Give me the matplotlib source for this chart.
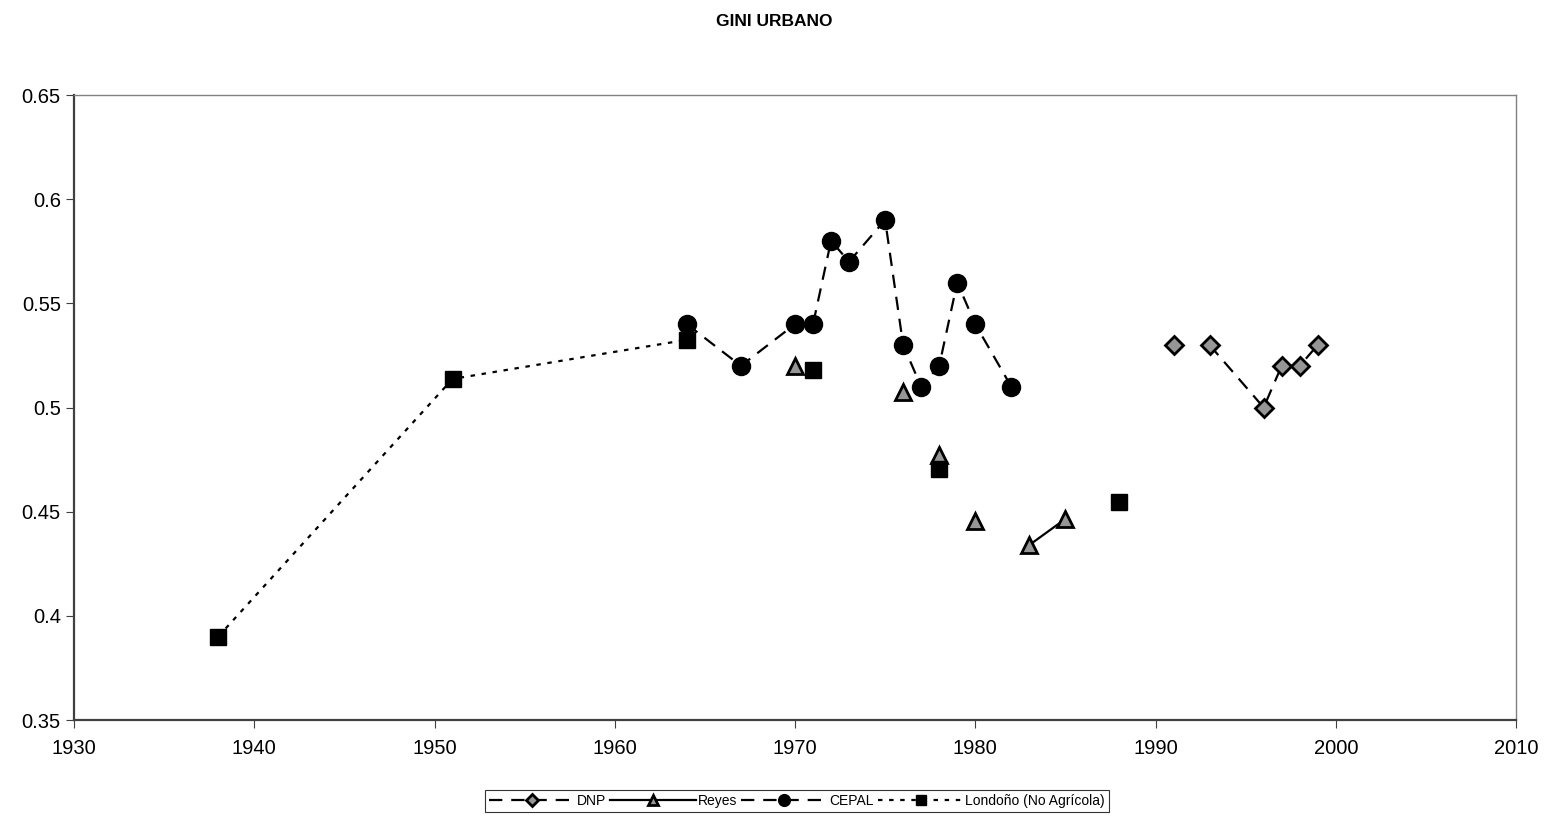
import numpy as np
import matplotlib
matplotlib.use("Agg")
from matplotlib import pyplot as plt

plt.rcParams['font.family'] = ['Liberation Sans', 'DejaVu Sans']

nan = np.nan

# gaps (nan) break the line where the source sheet had blank rows
dnp_years = [1991, nan, 1993, 1996, 1997, 1998, 1999]
dnp_gini = [0.53, nan, 0.53, 0.50, 0.52, 0.52, 0.53]

reyes_years = [1970, nan, 1976, nan, 1978, nan, 1980, nan, 1983, 1985]
reyes_gini = [0.52, nan, 0.5075, nan, 0.477, nan, 0.4455, nan, 0.434, 0.4465]

cepal_years = [1964, 1967, 1970, 1971, 1972, 1973, 1975, 1976, 1977, 1978, 1979, 1980, 1982]
cepal_gini = [0.54, 0.52, 0.54, 0.54, 0.58, 0.57, 0.59, 0.53, 0.51, 0.52, 0.56, 0.54, 0.51]

lond_years = [1938, 1951, 1964, nan, 1971, nan, 1978, nan, 1988]
lond_gini = [0.39, 0.5137, 0.5325, nan, 0.518, nan, 0.4705, nan, 0.4545]

fig = plt.figure(figsize=(15.49, 8.19), dpi=100)
ax = fig.add_axes([74/1549, 1-720/819, (1516-74)/1549, (720-95)/819])

grey = '#969696'
ax.plot(dnp_years, dnp_gini, color='black', linestyle=(0, (6, 4)), linewidth=1.6,
        marker='D', markersize=9, markerfacecolor=grey, markeredgecolor='black',
        markeredgewidth=2, label='DNP')
ax.plot(reyes_years, reyes_gini, color='black', linestyle='-', linewidth=1.6,
        marker='^', markersize=12, markerfacecolor=grey, markeredgecolor='black',
        markeredgewidth=2, label='Reyes')
ax.plot(cepal_years, cepal_gini, color='black', linestyle=(0, (6, 4)), linewidth=1.6,
        marker='o', markersize=13, markerfacecolor='black', markeredgecolor='black',
        label='CEPAL')
ax.plot(lond_years, lond_gini, color='black', linestyle=(0, (2, 3)), linewidth=1.6,
        marker='s', markersize=12, markerfacecolor='black', markeredgecolor='black',
        label='Londoño (No Agrícola)')

ax.set_xlim(1930, 2010)
ax.set_ylim(0.35, 0.65)
ax.set_xticks(range(1930, 2011, 10))
ax.set_yticks([0.35, 0.4, 0.45, 0.5, 0.55, 0.6, 0.65])
ax.set_yticklabels(['0.35', '0.4', '0.45', '0.5', '0.55', '0.6', '0.65'])
ax.tick_params(labelsize=14.5, length=6, direction='out', color='#404040')
ax.tick_params(axis='x', pad=8)
for s in ['left', 'bottom']:
    ax.spines[s].set_color('#404040')
    ax.spines[s].set_linewidth(1.6)
for s in ['top', 'right']:
    ax.spines[s].set_color('#808080')
    ax.spines[s].set_linewidth(1.0)

fig.text(0.5, 1-22/819, 'GINI URBANO', ha='center', va='center', fontsize=12.5, fontweight='bold')

leg = fig.legend(loc='center', bbox_to_anchor=(797/1549, 1-801/819), ncol=4, fontsize=10,
                 frameon=True, fancybox=False, edgecolor='black', handlelength=6.2,
                 handletextpad=0.1, columnspacing=0.3, markerscale=0.65,
                 borderpad=0.3)
leg.get_frame().set_linewidth(0.8)

fig.savefig('out.png', dpi=100)
